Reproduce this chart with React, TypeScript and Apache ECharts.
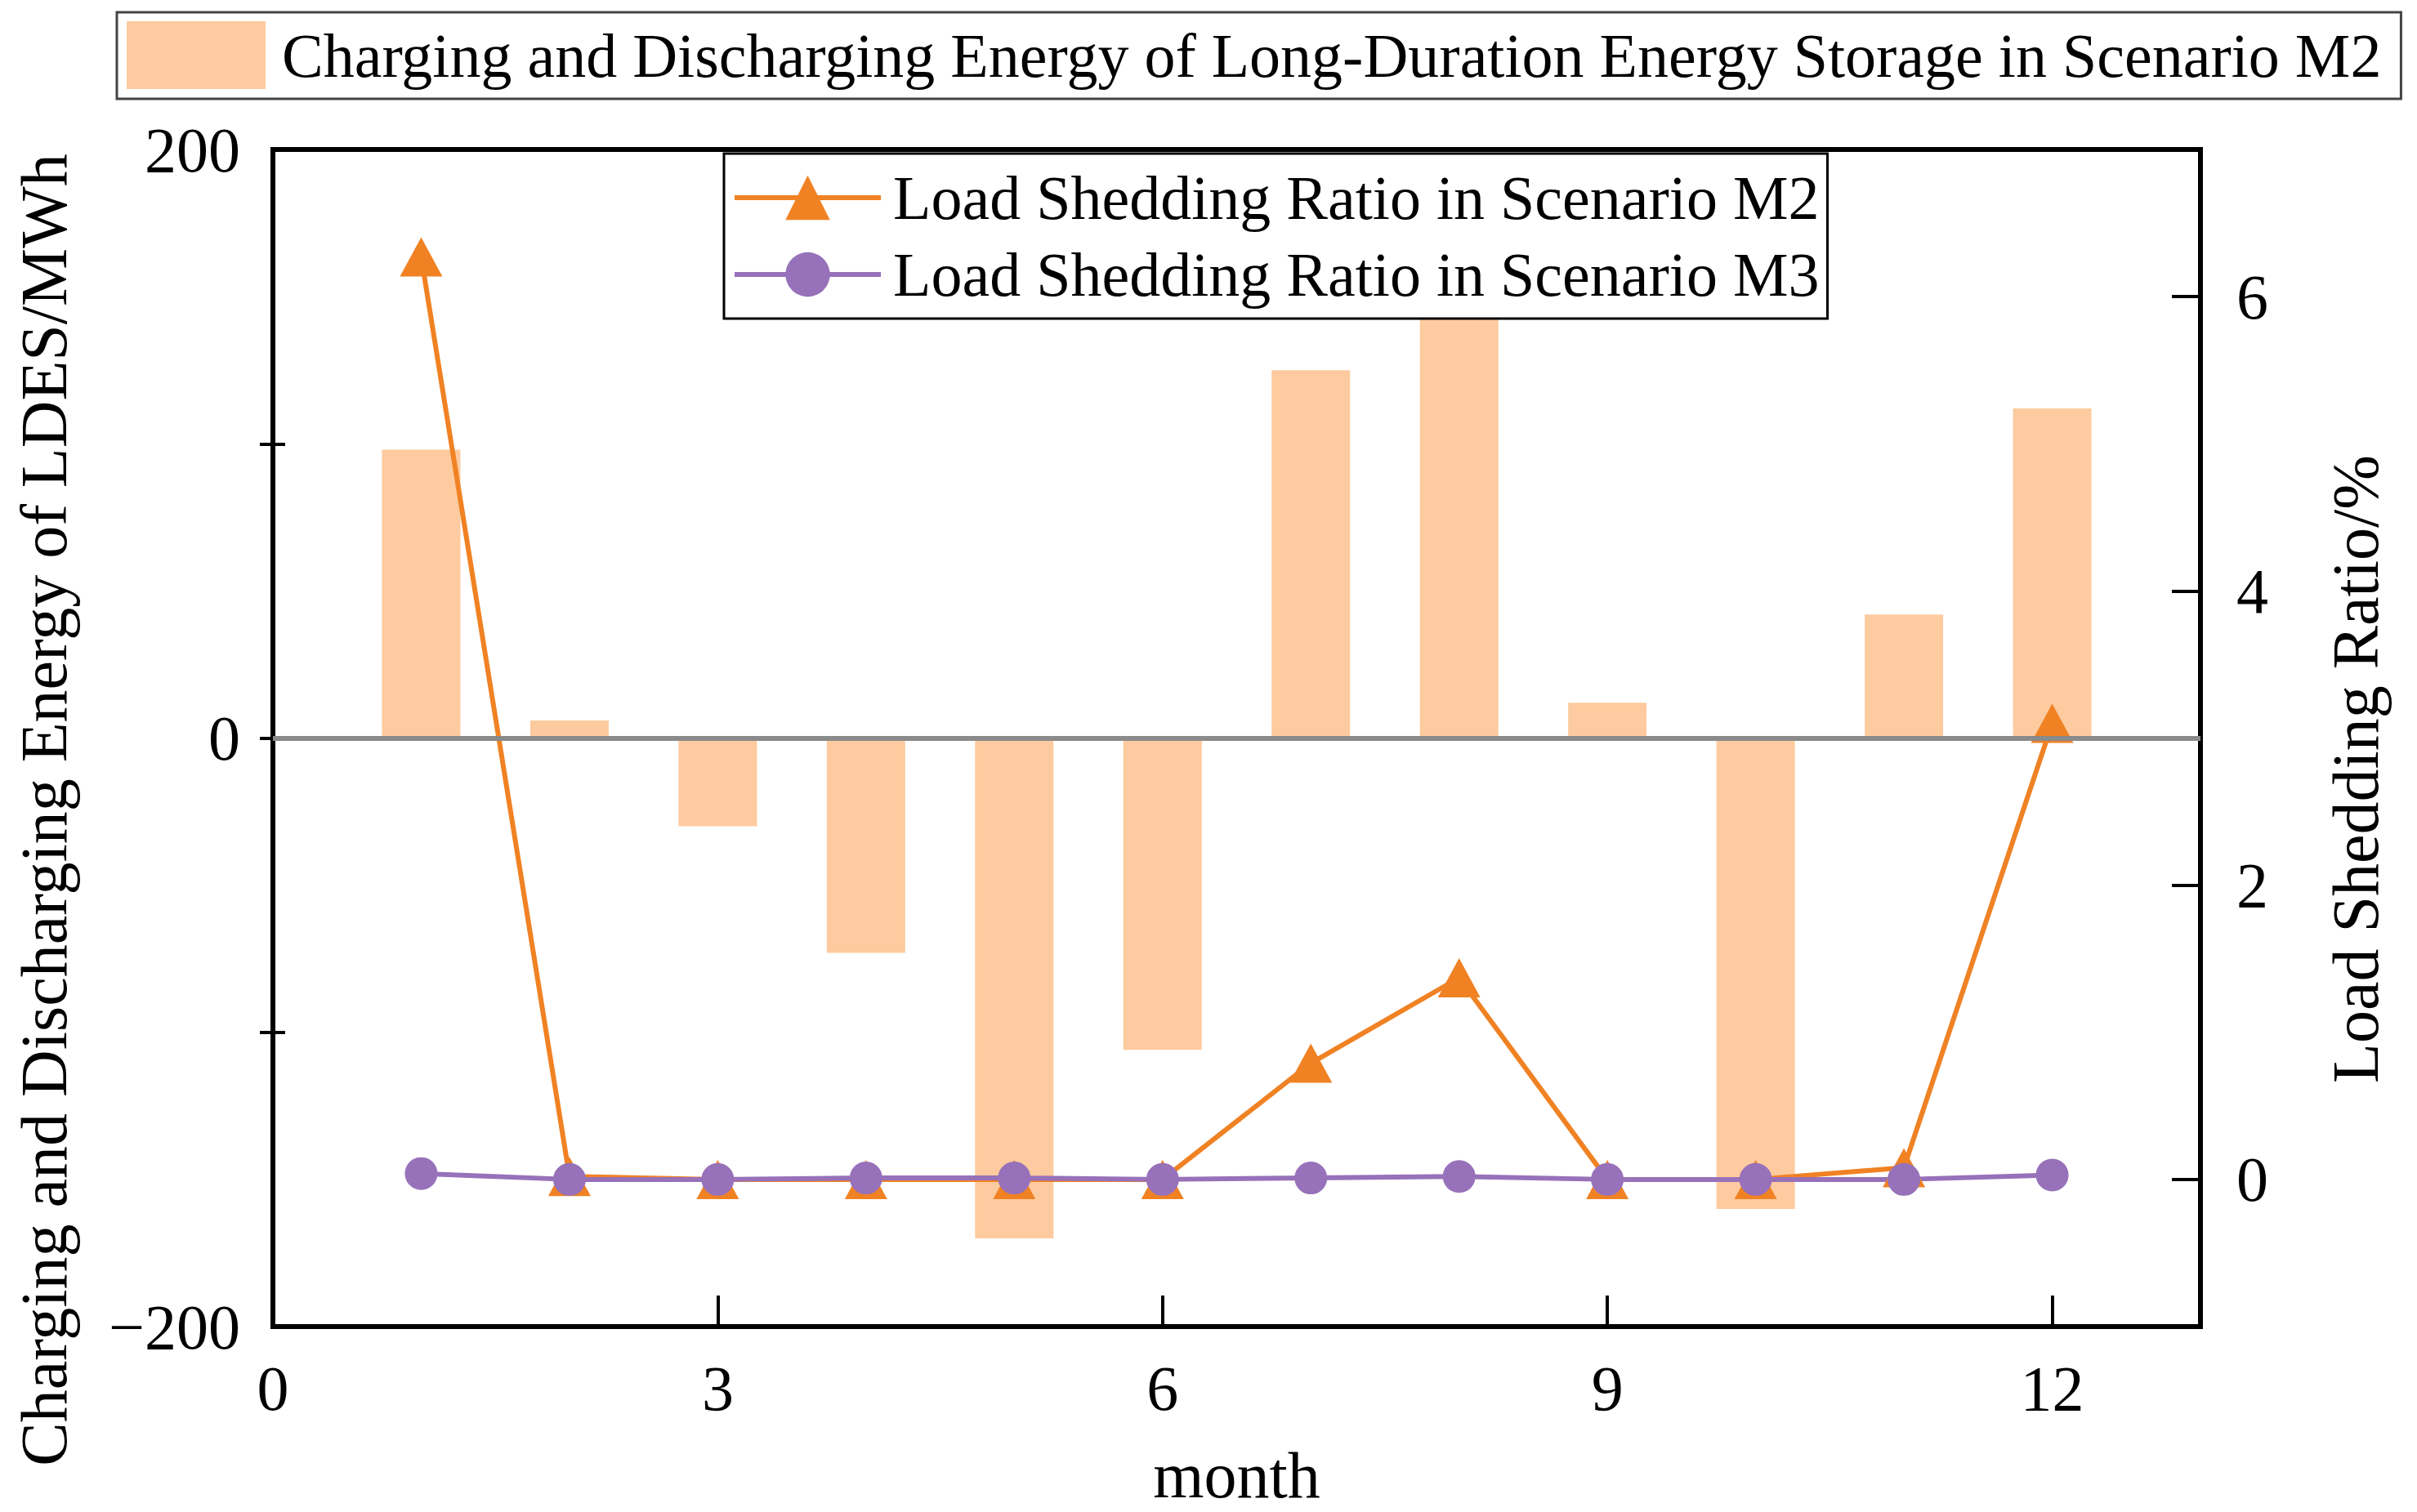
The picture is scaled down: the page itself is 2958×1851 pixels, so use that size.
import React, { useEffect, useRef } from "react";
import * as echarts from "echarts";

const months = [1, 2, 3, 4, 5, 6, 7, 8, 9, 10, 11, 12];
const energyLDES = [98, 6, -30, -73, -170, -106, 125, 150, 12, -160, 42, 112];
const sheddingM2 = [6.27, 0.02, 0, 0, 0, 0, 0.79, 1.37, 0, 0, 0.08, 3.1];
const sheddingM3 = [0.04, 0, 0, 0.01, 0.01, 0, 0.01, 0.02, 0, 0, 0, 0.03];
const xTicks = [0, 3, 6, 9, 12];
const rightMajor = [0, 2, 4, 6];
const rightMinor = [1, 3, 5];

const barName = "Charging and Discharging Energy of Long-Duration Energy Storage in Scenario M2";
const m2Name = "Load Shedding Ratio in Scenario M2";
const m3Name = "Load Shedding Ratio in Scenario M3";

const FONT = "'Liberation Serif', 'Times New Roman', serif";

export default function App() {
  const ref = useRef<HTMLDivElement>(null);
  useEffect(() => {
    if (!ref.current) return;
    const chart = echarts.init(ref.current, undefined, { renderer: "svg" });
    const axisLineStyle = { color: "#000", width: 6 };
    const tickStyle = { color: "#000", width: 4 };
    const labelStyle = { color: "#000", fontSize: 78, fontFamily: FONT };
    const nameStyle = { color: "#000", fontSize: 80, fontFamily: FONT };
    chart.setOption({
      animation: false,
      backgroundColor: "#fff",
      textStyle: { fontFamily: FONT },
      grid: {
        left: 334,
        right: 265,
        top: 183,
        bottom: 214,
        show: true,
        borderColor: "#000",
        borderWidth: 6,
        backgroundColor: "transparent",
      },
      legend: [
        {
          data: [barName],
          left: 143,
          top: 15,
          padding: [11, 24, 12, 12],
          itemWidth: 170,
          itemHeight: 83,
          icon: "rect",
          borderColor: "#444",
          borderWidth: 3,
          backgroundColor: "#fff",
          textStyle: { color: "#000", fontSize: 76, fontFamily: FONT, padding: [0, 0, 0, 15] },
        },
        {
          data: [m2Name, m3Name],
          orient: "vertical",
          left: 886,
          top: 188,
          padding: [14, 10, 14, 10],
          itemWidth: 179,
          itemHeight: 68,
          itemGap: 14,
          borderColor: "#000",
          borderWidth: 3,
          backgroundColor: "#fff",
          lineStyle: { width: 6 },
          textStyle: { color: "#000", fontSize: 76, lineHeight: 80, fontFamily: FONT, padding: [0, 0, 0, 10] },
        },
      ],
      xAxis: {
        type: "value",
        min: 0,
        max: 13,
        interval: 3,
        name: "month",
        nameLocation: "middle",
        nameGap: 142,
        nameTextStyle: nameStyle,
        axisLine: { show: true, onZero: false, lineStyle: axisLineStyle },
        axisTick: { show: true, inside: true, length: 38, lineStyle: tickStyle, customValues: xTicks },
        axisLabel: {
          ...labelStyle,
          margin: 36,
          customValues: xTicks,
          formatter: (v: number) => (xTicks.includes(v) ? String(v) : ""),
        },
        splitLine: { show: false },
      },
      yAxis: [
        {
          type: "value",
          min: -200,
          max: 200,
          interval: 200,
          position: "left",
          name: "Charging and Discharging Energy of LDES/MWh",
          nameLocation: "middle",
          nameRotate: 90,
          nameGap: 240,
          nameTextStyle: { ...nameStyle, padding: [0, 176, 0, 0] },
          axisLine: { show: true, onZero: false, lineStyle: axisLineStyle },
          axisTick: { show: true, inside: true, length: 34, lineStyle: tickStyle },
          minorTick: { show: true, splitNumber: 2, length: 15, lineStyle: tickStyle },
          axisLabel: {
            ...labelStyle,
            margin: 40,
            formatter: (v: number) => (v < 0 ? "\u2212" + Math.abs(v) : String(v)),
          },
          splitLine: { show: false },
        },
        {
          type: "value",
          min: -1,
          max: 7,
          position: "right",
          name: "Load Shedding Ratio/%",
          nameLocation: "middle",
          nameRotate: 90,
          nameGap: 150,
          nameTextStyle: { ...nameStyle, padding: [0, 76, 0, 0] },
          axisLine: { show: true, onZero: false, lineStyle: axisLineStyle },
          axisTick: { show: true, inside: true, length: 35, lineStyle: tickStyle, customValues: rightMajor },
          axisLabel: { ...labelStyle, margin: 44, customValues: rightMajor },
          splitLine: { show: false },
        },
        {
          type: "value",
          min: -1,
          max: 7,
          position: "right",
          axisLine: { show: false },
          axisTick: { show: true, inside: true, length: 16, lineStyle: tickStyle, customValues: rightMinor },
          axisLabel: { show: false, customValues: rightMinor },
          splitLine: { show: false },
        },
      ],
      series: [
        {
          name: barName,
          type: "bar",
          yAxisIndex: 0,
          barWidth: 96,
          itemStyle: { color: "#FDCB9F" },
          data: months.map((m, i) => [m, energyLDES[i]]),
          markLine: {
            silent: true,
            symbol: ["none", "none"],
            label: { show: false },
            lineStyle: { color: "#8a8a8a", width: 6, type: "solid" },
            data: [{ yAxis: 0 }],
          },
        },
        {
          name: m2Name,
          type: "line",
          yAxisIndex: 1,
          symbol: "triangle",
          symbolSize: [52, 48],
          color: "#F08224",
          itemStyle: { color: "#F08224" },
          lineStyle: { color: "#F08224", width: 6 },
          data: months.map((m, i) => [m, sheddingM2[i]]),
        },
        {
          name: m3Name,
          type: "line",
          yAxisIndex: 1,
          symbol: "circle",
          symbolSize: 40,
          color: "#9771B9",
          itemStyle: { color: "#9771B9" },
          lineStyle: { color: "#9771B9", width: 6 },
          data: months.map((m, i) => [m, sheddingM3[i]]),
        },
      ],
    });
    return () => chart.dispose();
  }, []);
  return (
    <div
      ref={ref}
      style={{ position: "absolute", left: 0, top: 0, width: 2958, height: 1851 }}
    />
  );
}
